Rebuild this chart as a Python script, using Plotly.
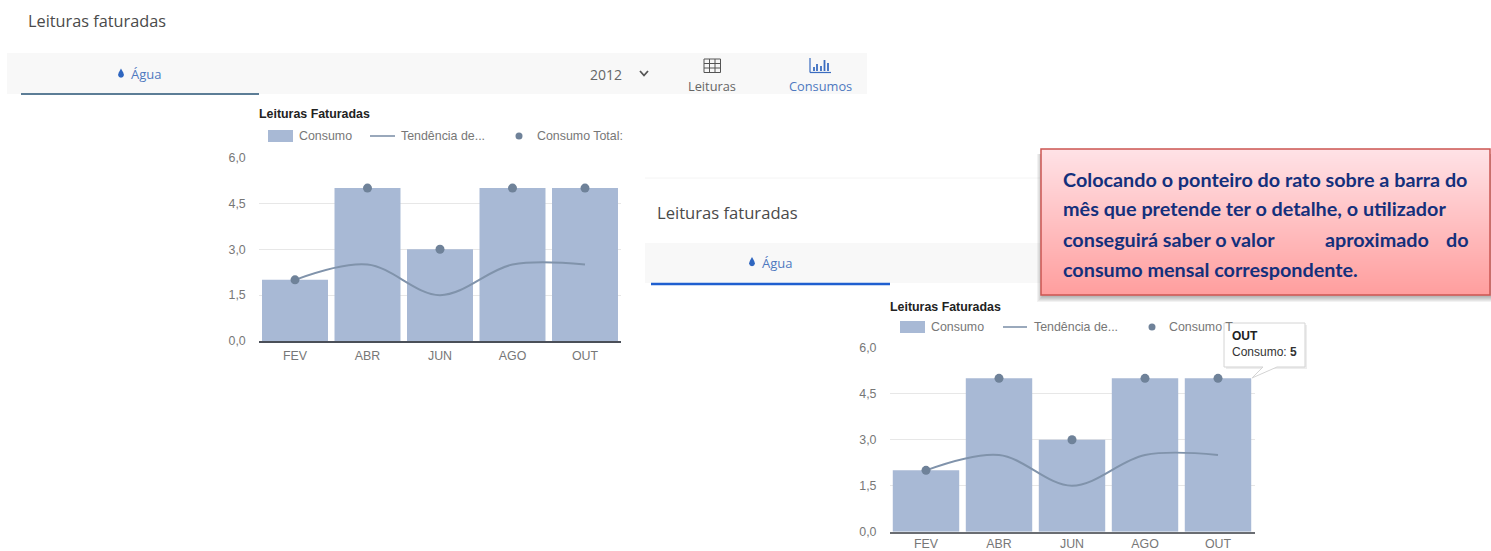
import plotly.graph_objects as go

W, H = 1491, 551

# ---- data ----
months = ["FEV", "ABR", "JUN", "AGO", "OUT"]
consumo = [2, 5, 3, 5, 5]
tendencia = [2, 2.5, 1.5, 2.5, 2.5]
consumo_total = [2, 5, 3, 5, 5]
y_ticks = [0, 1.5, 3, 4.5, 6]
y_tick_labels = ["0,0", "1,5", "3,0", "4,5", "6,0"]
legend_labels = ["Consumo", "Tendência de...", "Consumo Total:"]
legend_labels_hidden = ["Consumo", "Tendência de...", "Consumo T"]  # the tooltip covers the rest of the label
callout_lines = ["Colocando o ponteiro do rato sobre a barra do",
                 "mês que pretende ter o detalhe, o utilizador",
                 "consumo mensal correspondente."]

BAR = "#a8b9d5"
DOT = "#6f8299"
LINE = "#8093ab"
GREY = "#777777"
ARIAL = "Liberation Sans, Arial, sans-serif"
UI = "Open Sans, sans-serif"
FS = 12.4


def fx(x):
    return x / W


def fy(y):
    return 1 - y / H


def rect(x0, y0, x1, y1, fill, line=None, lw=0, opacity=1, layer="below"):
    return dict(type="rect", xref="paper", yref="paper", x0=fx(x0), x1=fx(x1), y0=fy(y1), y1=fy(y0),
                fillcolor=fill, opacity=opacity, layer=layer,
                line=dict(color=line or fill, width=lw))


def seg(x0, y0, x1, y1, color, lw=1, layer="below"):
    return dict(type="line", xref="paper", yref="paper", x0=fx(x0), x1=fx(x1), y0=fy(y0), y1=fy(y1),
                layer=layer, line=dict(color=color, width=lw))


def dot(cx, cy, r, color):
    return dict(type="circle", xref="paper", yref="paper", x0=fx(cx - r), x1=fx(cx + r), y0=fy(cy + r), y1=fy(cy - r),
                fillcolor=color, layer="above", line=dict(color=color, width=0))


def poly(points, fill, line=None, lw=0, layer="above"):
    p = "M" + " L".join(f"{fx(x):.5f},{fy(y):.5f}" for x, y in points) + " Z"
    return dict(type="path", xref="paper", yref="paper", path=p, fillcolor=fill, layer=layer,
                line=dict(color=line or fill, width=lw))


def text(x, y, s, size=FS, color=GREY, family=ARIAL, anchor="left"):
    return dict(xref="paper", yref="paper", x=fx(x), y=fy(y), text=s, showarrow=False, xanchor=anchor,
                yanchor="middle", borderpad=0, align="left", font=dict(size=size, color=color, family=family))


def drop(cx, cy, color):
    return poly([(cx, cy - 5), (cx + 2.2, cy - 1), (cx + 3, cy + 1.5), (cx + 2, cy + 3.5), (cx, cy + 4.2),
                 (cx - 2, cy + 3.5), (cx - 3, cy + 1.5), (cx - 2.2, cy - 1)], color)


fig = go.Figure()

charts = [
    dict(ax="", dom_x=(258.75, 621.25), dom_y=(157.5, 341), axis="#4a4f58", standoff=2),
    dict(ax="2", dom_x=(889.5, 1254.5), dom_y=(347.7, 531.7), axis="#6a6d72", standoff=0),
]
for c in charts:
    xa, ya = "x" + c["ax"], "y" + c["ax"]
    fig.add_trace(go.Bar(x=months, y=consumo, name=legend_labels[0], marker=dict(color=BAR, line=dict(width=0)),
                         xaxis=xa, yaxis=ya, showlegend=False, hoverinfo="skip"))
    fig.add_trace(go.Scatter(x=months, y=tendencia, name=legend_labels[1], mode="lines",
                             line=dict(color=LINE, width=2, shape="spline", smoothing=1),
                             xaxis=xa, yaxis=ya, showlegend=False, hoverinfo="skip"))
    fig.add_trace(go.Scatter(x=months, y=consumo_total, name=legend_labels[2], mode="markers",
                             marker=dict(color=DOT, size=9), xaxis=xa, yaxis=ya, showlegend=False, hoverinfo="skip"))
    fig.update_layout({
        "xaxis" + c["ax"]: dict(domain=[fx(c["dom_x"][0]), fx(c["dom_x"][1])], anchor=ya, type="category",
                                categoryorder="array", categoryarray=months, range=[-0.5, 4.5], automargin=False,
                                showgrid=False, showline=True, linecolor=c["axis"], linewidth=1.5, ticks="",
                                tickfont=dict(size=FS, color=GREY, family=ARIAL), ticklabelstandoff=c["standoff"],
                                fixedrange=True),
        "yaxis" + c["ax"]: dict(domain=[fy(c["dom_y"][1]), fy(c["dom_y"][0])], anchor=xa, range=[0, 6], automargin=False,
                                tickmode="array", tickvals=y_ticks, ticktext=y_tick_labels,
                                showgrid=True, gridcolor="#e7e7e7", gridwidth=1, zeroline=False, showline=False,
                                ticks="", tickfont=dict(size=FS, color=GREY, family=ARIAL), ticklabelstandoff=12,
                                fixedrange=True),
    })

shapes, ann = [], []

# --- top-left panel chrome
shapes.append(rect(7, 53, 867, 94, "#f8f8f8"))
shapes.append(seg(21, 94, 259, 94, "#5c7d96", 2))
shapes.append(drop(121, 73.5, "#2f66c0"))
ann += [text(27, 21, "Leituras faturadas", 16.3, "#4a4a4a", UI),
        text(130, 74, "Água", 13, "#4f79c0", UI),
        text(606, 74, "2012", 14, "#666666", UI, "center"),
        text(712, 86, "Leituras", 12.8, "#666666", UI, "center"),
        text(820.5, 86, "Consumos", 12.8, "#4f79c0", UI, "center")]
shapes.append(dict(type="path", xref="paper", yref="paper", layer="above",
                   path=f"M{fx(640)},{fy(71)} L{fx(644)},{fy(75.5)} L{fx(648)},{fy(71)}",
                   line=dict(color="#555555", width=1.8)))
# table icon
shapes.append(rect(704, 59, 720.5, 72.5, "rgba(0,0,0,0)", "#555555", 1, layer="above"))
for yy in (63.5, 68):
    shapes.append(seg(704, yy, 720.5, yy, "#555555", 1, "above"))
for xx in (709.5, 715):
    shapes.append(seg(xx, 59, xx, 72.5, "#555555", 1, "above"))
# bars icon
shapes.append(seg(810, 58, 810, 72.5, "#3a6cc0", 1.2, "above"))
shapes.append(seg(810, 72.5, 831, 72.5, "#3a6cc0", 1.2, "above"))
for xx, top in ((814, 67), (817, 64), (821, 66), (824.5, 60), (828, 63)):
    shapes.append(seg(xx, top, xx, 71, "#3a6cc0", 1.8, "above"))

# --- second panel chrome
shapes.append(seg(645, 178, 1040, 178, "#f4f4f4", 1))
shapes.append(rect(645, 243, 1040, 283, "#f8f8f8"))
shapes.append(seg(651, 284, 890, 284, "#1f5fd0", 2.5))
shapes.append(drop(752, 262, "#2f66c0"))
ann += [text(656, 212, "Leituras faturadas", 16.6, "#4a4a4a", UI),
        text(761, 262.5, "Água", 13, "#4f79c0", UI)]

# --- chart titles & legends
legend_rows = [
    dict(title=(258, 114), y=136, sw=(268, 293), t0=298, ln=(370, 395), t1=400, d=519, t2=536, labels=legend_labels),
    dict(title=(889, 307), y=327, sw=(900, 925), t0=930, ln=(1003, 1027), t1=1033, d=1152, t2=1168,
         labels=legend_labels_hidden),
]
for r in legend_rows:
    ann.append(text(r["title"][0], r["title"][1], "<b>Leituras Faturadas</b>", FS, "#222222"))
    shapes.append(rect(r["sw"][0], r["y"] - 6, r["sw"][1], r["y"] + 6, BAR))
    shapes.append(seg(r["ln"][0], r["y"], r["ln"][1], r["y"], LINE, 1.6))
    shapes.append(dot(r["d"], r["y"], 3.5, DOT))
    ann += [text(r["t0"], r["y"], r["labels"][0]),
            text(r["t1"], r["y"], r["labels"][1]),
            text(r["t2"], r["y"], r["labels"][2])]

# --- tooltip
shapes.append(rect(1226, 325, 1307, 369, "#000000", opacity=0.07, layer="above"))
shapes.append(poly([(1224, 323), (1305, 323), (1305, 367), (1277, 367), (1252, 378), (1263, 367), (1224, 367)],
                   "#ffffff", "#d4d4d4", 1))
# --- callout with gradient & shadow
cx0, cx1, cy0, cy1 = 1041, 1490, 149, 295
for i in range(6, 0, -1):
    shapes.append(rect(cx0 + 2 - i, cy0 + 5, min(cx1 + i, W), cy1 + i + 1, "#000000", opacity=0.05, layer="above"))
steps = int(cy1 - cy0)
top, bot = (255, 226, 230), (255, 158, 158)
for i in range(steps):
    t = i / (steps - 1)
    col = "rgb(%d,%d,%d)" % tuple(round(a + (b - a) * t) for a, b in zip(top, bot))
    shapes.append(rect(cx0, cy0 + i, cx1, cy0 + i + 1.2, col, layer="above"))
shapes.append(rect(cx0, cy0, cx1, cy1, "rgba(0,0,0,0)", "#cc5552", 1.5, layer="above"))

ann += [text(1231, 336, "<b>OUT</b>", 12, "#222222"),
        text(1231, 352, "Consumo: <b>5</b>", 12, "#333333")]

NAVY = "#14307c"
CF = "Lato, Carlito, Calibri, sans-serif"
CS = 19.8
ann += [text(1062, 179, f"<b>{callout_lines[0]}</b>", CS, NAVY, CF),
        text(1062, 208, f"<b>{callout_lines[1]}</b>", CS, NAVY, CF),
        text(1062, 239, "<b>conseguirá saber o valor</b>", CS, NAVY, CF),
        text(1324, 239, "<b>aproximado</b>", CS, NAVY, CF),
        text(1470, 239, "<b>do</b>", CS, NAVY, CF, "right"),
        text(1062, 269, f"<b>{callout_lines[2]}</b>", CS, NAVY, CF)]

fig.update_layout(width=W, height=H, margin=dict(l=0, r=0, t=0, b=0), paper_bgcolor="white", plot_bgcolor="rgba(0,0,0,0)",
                  barmode="overlay", bargap=0.09, showlegend=False, shapes=shapes, annotations=ann, hovermode=False)

fig.write_html("out.html", config=dict(displayModeBar=False),
               post_script="document.body.style.margin='0';")
